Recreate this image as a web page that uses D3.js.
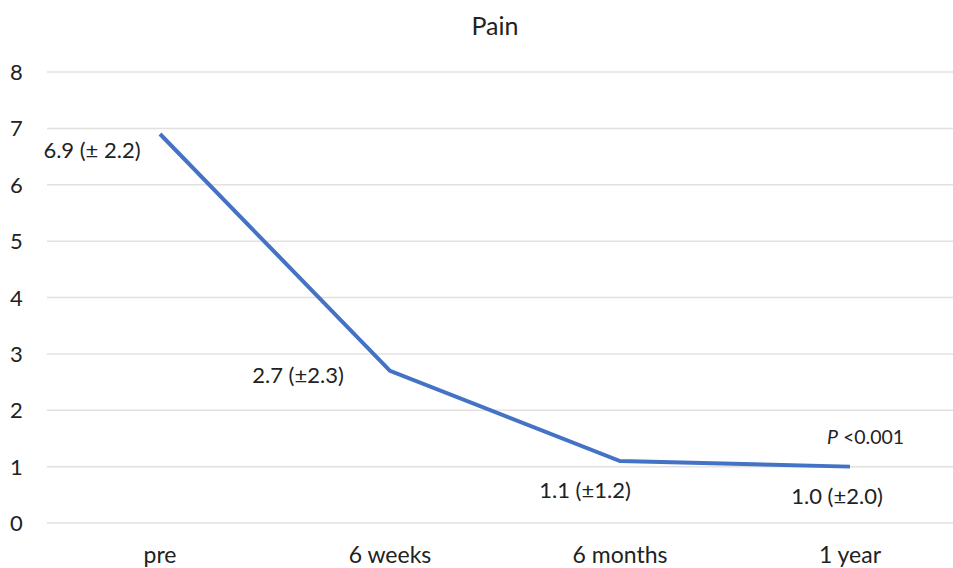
<!DOCTYPE html>
<html>
<head>
<meta charset="utf-8">
<script src="https://cdn.jsdelivr.net/npm/d3@7"></script>
<style>
  body { margin: 0; background: #fff; }
  text { font-family: Lato, "Open Sans", sans-serif; fill: #222; }
</style>
</head>
<body>
<div id="canvas"></div>
<script>
"use strict"

// DATA

let categories = ["pre", "6 weeks", "6 months", "1 year"];
let painMeans = [6.9, 2.7, 1.1, 1.0];
let painLabels = ["6.9 (\u00b1 2.2)", "2.7 (\u00b12.3)", "1.1 (\u00b11.2)", "1.0 (\u00b12.0)"];
let yTicks = [0, 1, 2, 3, 4, 5, 6, 7, 8];

// label offsets relative to each point (dx, dy)
let labelOffsets = [[-68, 24], [-92, 12], [-35, 37], [-13, 37]];

// CONFIGURATION

let svgWidth = 953;
let svgHeight = 568;

let svg = d3.select("#canvas")
    .append("svg")
    .attr("width", svgWidth)
    .attr("height", svgHeight);

// SCALES

let xScale = d3.scalePoint()
    .domain(categories)
    .range([160, 850]);

let yScale = d3.scaleLinear()
    .domain([0, 8])
    .range([523, 72]);

// TITLE

svg.append("text")
    .attr("x", 495)
    .attr("y", 35)
    .attr("text-anchor", "middle")
    .style("font-size", "25px")
    .text("Pain");

// GRIDLINES

svg.selectAll("line.grid")
    .data(yTicks)
    .join("line")
    .attr("class", "grid")
    .attr("x1", 47)
    .attr("x2", svgWidth)
    .attr("y1", function(d) { return yScale(d); })
    .attr("y2", function(d) { return yScale(d); })
    .attr("stroke", "#e3e0e0")
    .attr("stroke-width", 1.5);

// Y TICK LABELS

svg.selectAll("text.ytick")
    .data(yTicks)
    .join("text")
    .attr("class", "ytick")
    .attr("x", 10)
    .attr("y", function(d) { return yScale(d) + 8; })
    .style("font-size", "22px")
    .text(function(d) { return d; });

// X TICK LABELS

svg.selectAll("text.xtick")
    .data(categories)
    .join("text")
    .attr("class", "xtick")
    .attr("x", function(d) { return xScale(d); })
    .attr("y", 563)
    .attr("text-anchor", "middle")
    .style("font-size", "23px")
    .text(function(d) { return d; });

// LINE

let line = d3.line()
    .x(function(d, i) { return xScale(categories[i]); })
    .y(function(d) { return yScale(d); });

svg.append("path")
    .datum(painMeans)
    .attr("d", line)
    .attr("fill", "none")
    .attr("stroke", "#4472c4")
    .attr("stroke-width", 4);

// DATA LABELS

svg.selectAll("text.dataLabel")
    .data(painMeans)
    .join("text")
    .attr("class", "dataLabel")
    .attr("x", function(d, i) { return xScale(categories[i]) + labelOffsets[i][0]; })
    .attr("y", function(d, i) { return yScale(d) + labelOffsets[i][1]; })
    .attr("text-anchor", "middle")
    .style("font-size", "22px")
    .text(function(d, i) { return painLabels[i]; });

// P VALUE

let pText = svg.append("text")
    .attr("x", 827)
    .attr("y", 444)
    .style("font-size", "19.5px");

pText.append("tspan")
    .style("font-style", "italic")
    .text("P");

pText.append("tspan")
    .text(" <0.001");
</script>
</body>
</html>
